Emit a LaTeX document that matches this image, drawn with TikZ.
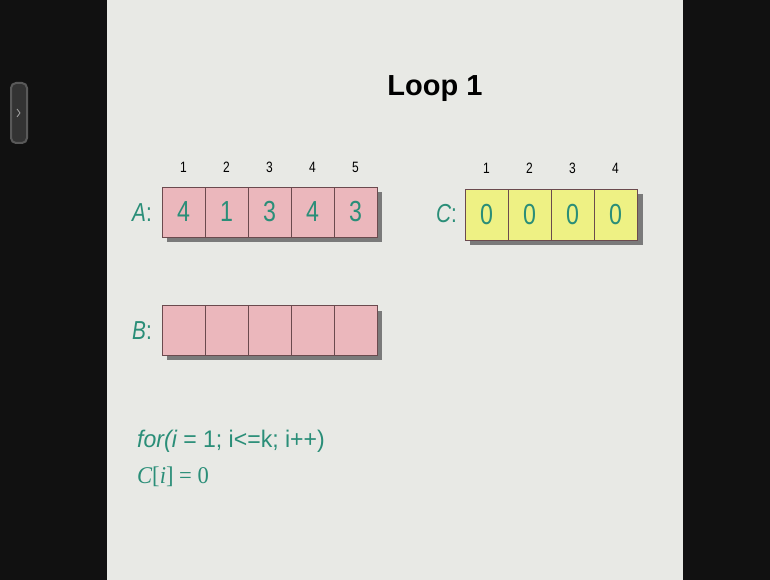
\documentclass[tikz,border=0pt]{standalone}
\usepackage{fontspec}
\setmainfont{Liberation Sans}
\newfontfamily\narrowsans[FakeStretch=0.8]{Liberation Sans}
\newfontfamily\codesans[FakeStretch=0.96]{Liberation Sans}
\newfontfamily\serifnarrow[FakeStretch=0.94]{Liberation Serif}
\definecolor{slidebg}{HTML}{E8E9E5}
\definecolor{darkside}{HTML}{111111}
\definecolor{cellpink}{HTML}{EBB7BC}
\definecolor{cellyellow}{HTML}{EEF184}
\definecolor{cellborder}{HTML}{6B4A4E}
\definecolor{shadowgray}{HTML}{7A7A7A}
\definecolor{tealtext}{HTML}{2A8E78}
\begin{document}
\begin{tikzpicture}[x=1pt,y=-1pt,
  cell/.style={draw=cellborder, line width=0.8pt, minimum width=43pt, inner sep=0pt,
    font=\narrowsans\fontsize{29}{31}\selectfont, text=tealtext},
  pinkcell/.style={cell, fill=cellpink, minimum height=50pt},
  yellowcell/.style={cell, fill=cellyellow, minimum height=51pt},
  idx/.style={font=\narrowsans\fontsize{15}{17}\selectfont, text=black, inner sep=0pt},
  arrlabel/.style={font=\narrowsans\itshape\fontsize{26}{28}\selectfont, text=tealtext, inner sep=0pt, anchor=east},
  code/.style={text=tealtext, inner sep=0pt, anchor=base west}
]
\useasboundingbox (0,0) rectangle (770,580);
\fill[darkside] (0,0) rectangle (770,580);
\fill[slidebg] (107,0) rectangle (683,580);
% side tab
\draw[line width=2pt, draw=gray!70!black, fill=black!80, rounded corners=5pt] (11,83) rectangle (27,143);
\draw[gray!70, line width=0.8pt] (17,109) -- (20,113) -- (17,117);
% title
\node[font=\bfseries\fontsize{29}{31}\selectfont, inner sep=0pt, anchor=base] (title) at (435,96) {Loop 1};
% shadows
\fill[shadowgray] (167,192) rectangle (382,242);
\fill[shadowgray] (167,311) rectangle (382,360);
\fill[shadowgray] (470,194) rectangle (643,245);
% array A
\node[arrlabel] (labA) at (152,213) {A\upshape:};
\foreach \v [count=\i] in {4,1,3,4,3}{
  \node[pinkcell] (a\i) at (140.5+43*\i,212) {\v};
  \node[idx] (ai\i) at (140.5+43*\i,167) {\i};
}
% array B
\node[arrlabel] (labB) at (152,331) {B\upshape:};
\foreach \i in {1,...,5}{
  \node[pinkcell] (b\i) at (140.5+43*\i,330.5) {};
}
% array C
\node[arrlabel] (labC) at (457,214) {C\upshape:};
\foreach \i in {1,...,4}{
  \node[yellowcell] (c\i) at (443.5+43*\i,214.5) {0};
  \node[idx] (ci\i) at (443.5+43*\i,168) {\i};
}
% code
\node[code, font=\codesans\fontsize{24}{26}\selectfont] (code1) at (137,447) {\itshape for(i\upshape\ = 1; i<=k; i++)};
\node[code, font=\serifnarrow\fontsize{24}{26}\selectfont] (code2) at (137,483) {\itshape C\upshape[\itshape i\upshape] = 0};
\end{tikzpicture}
\end{document}
